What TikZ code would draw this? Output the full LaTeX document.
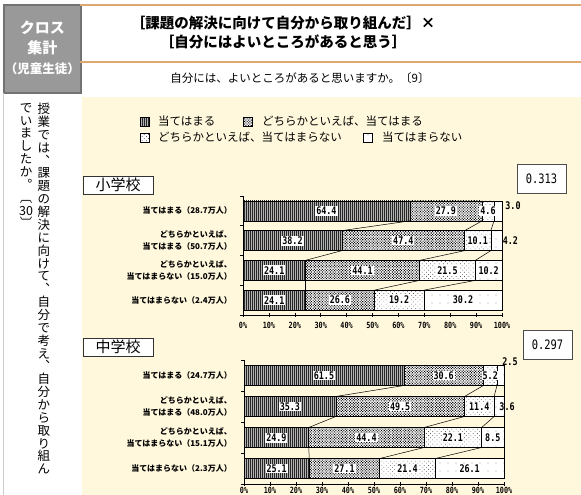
\documentclass[tikz,border=0pt]{standalone}
\usepackage{fontspec}
\setmainfont{Noto Sans CJK JP}
\newfontfamily\numfont[FakeStretch=0.8]{DejaVu Sans Mono}
\usetikzlibrary{patterns.meta}
\definecolor{cream}{RGB}{255,248,220}
\definecolor{rulebrown}{RGB}{222,168,112}
\definecolor{hdgray}{RGB}{153,153,153}

\begin{document}
\begin{tikzpicture}[x=1pt,y=-1pt,
  s1/.style={draw=black,line width=0.5pt,preaction={fill=gray!60},
    pattern={Lines[angle=90,distance=2pt,line width=0.9pt]},pattern color=black!85},
  s2/.style={draw=black,line width=0.5pt,preaction={fill=white},
    pattern={Dots[angle=45,distance=1.9pt,radius=0.75pt]},pattern color=black},
  s3/.style={draw=black,line width=0.5pt,preaction={fill=white},
    pattern={Dots[angle=45,distance=3pt,radius=0.4pt]},pattern color=black},
  s4/.style={draw=black,line width=0.5pt,preaction={fill=white},
    pattern={Dots[distance=8pt,radius=0.45pt]},pattern color=black},
  vlab/.style={fill=white,inner sep=1pt,font=\numfont\bfseries\fontsize{10.5}{11}\selectfont},
  vout/.style={inner sep=1pt,font=\numfont\bfseries\fontsize{10.5}{11}\selectfont},
  tiklab/.style={inner sep=0pt,font=\numfont\bfseries\fontsize{8.5}{9}\selectfont},
  catlab/.style={anchor=east,align=right,inner sep=0pt,font=\bfseries\fontsize{8}{12}\selectfont},
  leglab/.style={anchor=west,inner sep=0pt,font=\fontsize{11.5}{12}\selectfont},
  school/.style={draw=black!80,fill=white,minimum width=70pt,minimum height=18pt,
    inner sep=0pt,font=\fontsize{15}{15}\selectfont},
  coef/.style={draw=black!70,line width=1pt,fill=white,minimum width=49pt,
    minimum height=29pt,inner sep=0pt,font=\numfont\fontsize{13}{13}\selectfont},
  vcol/.style={anchor=north,align=center,inner sep=0pt,font=\fontsize{12.5}{12.86}\selectfont},
  serline/.style={line width=0.5pt},
  axline/.style={line width=0.6pt}
]
\useasboundingbox (0,0) rectangle (581,495);
\fill[white] (0,0) rectangle (581,495);
\fill[cream] (82,97) rectangle (581,495);

% header
\draw[hdgray!75!black,line width=1.2pt,fill=hdgray] (4,5) rectangle (81,93);
\node[align=center,text=white,font=\bfseries\fontsize{15}{20}\selectfont] (hd) at (42.5,48)
  {クロス\\集計\\{\fontsize{12.5}{20}\selectfont（児童生徒）}};
\draw[rulebrown,line width=1.5pt] (80,5) -- (581,5);
\draw[rulebrown,line width=1.2pt] (80,62) -- (581,62);
\node[align=center,font=\bfseries\fontsize{14.5}{19}\selectfont] (ttl) at (283,33)
  {［課題の解決に向けて自分から取り組んだ］×\\［自分にはよいところがあると思う］};
\node[font=\fontsize{11.5}{12}\selectfont] (sub) at (300,78) {自分には、よいところがあると思いますか。〔9〕};

% question in vertical writing
\draw[black!20] (3,93) -- (3,495);
\node[vcol] (qa) at (44,103) {授\\業\\で\\は\\︑\\課\\題\\の\\解\\決\\に\\向\\け\\て\\︑\\自\\分\\で\\考\\え\\︑\\自\\分\\か\\ら\\取\\り\\組\\ん};
\node[vcol] (qb) at (26,103) {で\\い\\ま\\し\\た\\か\\︒\\︹\\30\\︺};

% legend
\draw[s1] (140,117) rectangle (149,126);
\node[leglab] (lg1) at (158,121.5) {当てはまる};
\draw[s2] (243,117) rectangle (252,126);
\node[leglab] (lg2) at (262,121.5) {どちらかといえば、当てはまる};
\draw[s3] (140,133) rectangle (149,142);
\node[leglab] (lg3) at (158,137.5) {どちらかといえば、当てはまらない};
\draw[s4] (363,133) rectangle (372,142);
\node[leglab] (lg4) at (382,137.5) {当てはまらない};

% elementary school
\node[school] (sho) at (118,185) {小学校};
\node[coef] (shor) at (541.5,178.5) {0.313};
\foreach \a/\b/\c/\d/\ls/\lx/\ly [count=\i] in {64.4/27.9/4.6/3.0/vout/15/-5,
    38.2/47.4/10.1/4.2/vout/14/0, 24.1/44.1/21.5/10.2/vlab/0/0, 24.1/26.6/19.2/30.2/vlab/0/0}{
  \pgfmathsetmacro\yc{196+(\i-0.5)*29.75}
  \pgfmathsetmacro\xa{243+2.59*\a}
  \pgfmathsetmacro\xb{\xa+2.59*\b}
  \pgfmathsetmacro\xc{\xb+2.59*\c}
  \draw[s1] (243,\yc-10) rectangle (\xa,\yc+10);
  \draw[s2] (\xa,\yc-10) rectangle (\xb,\yc+10);
  \draw[s3] (\xb,\yc-10) rectangle (\xc,\yc+10);
  \draw[s4] (\xc,\yc-10) rectangle (502,\yc+10);
  \foreach \q [count=\k] in {\xa,\xb,\xc,502}{
    \coordinate (sho-t\i\k) at (\q,\yc-10);
    \coordinate (sho-b\i\k) at (\q,\yc+10);
  }
  \node[vlab] (sho-v\i1) at ({(243+\xa)/2},\yc) {\a};
  \node[vlab] (sho-v\i2) at ({(\xa+\xb)/2},\yc) {\b};
  \node[vlab] (sho-v\i3) at ({(\xb+\xc)/2},\yc) {\c};
  \node[\ls] (sho-v\i4) at ({(\xc+502)/2+\lx},{\yc+\ly}) {\d};
}
\foreach \i [evaluate=\i as \j using int(\i+1)] in {1,2,3}
  \foreach \k in {1,...,4}
    \draw[serline] (sho-b\i\k) -- (sho-t\j\k);
\draw[axline] (243,196) -- (243,315) -- (502,315);
\foreach \t in {0,...,4} \draw[axline] (243,196+29.75*\t) -- ++(-3,0);
\foreach \t [evaluate=\t as \pc using int(10*\t)] in {0,...,10}{
  \draw[axline] (243+25.9*\t,313) -- ++(0,4);
  \node[tiklab] (shox\t) at (243+25.9*\t,325) {\pc\%};
}
\node[catlab] (shoc1) at (232,210.9) {当てはまる（28.7万人）};
\node[catlab] (shoc2) at (232,240.6) {どちらかといえば、\\当てはまる（50.7万人）};
\node[catlab] (shoc3) at (232,270.4) {どちらかといえば、\\当てはまらない（15.0万人）};
\node[catlab] (shoc4) at (232,300.1) {当てはまらない（2.4万人）};

% junior high school
\node[school] (chu) at (118,347) {中学校};
\node[coef] (chur) at (547.5,345) {0.297};
\foreach \a/\b/\c/\d/\ls/\lx/\ly [count=\i] in {61.5/30.6/5.2/2.5/vout/9.5/-13.5,
    35.3/49.5/11.4/3.6/vout/8/0, 24.9/44.4/22.1/8.5/vlab/0/0, 25.1/27.1/21.4/26.1/vlab/0/0}{
  \pgfmathsetmacro\yc{360+(\i-0.5)*31}
  \pgfmathsetmacro\xa{244+2.6*\a}
  \pgfmathsetmacro\xb{\xa+2.6*\b}
  \pgfmathsetmacro\xc{\xb+2.6*\c}
  \draw[s1] (244,\yc-10) rectangle (\xa,\yc+10);
  \draw[s2] (\xa,\yc-10) rectangle (\xb,\yc+10);
  \draw[s3] (\xb,\yc-10) rectangle (\xc,\yc+10);
  \draw[s4] (\xc,\yc-10) rectangle (504,\yc+10);
  \foreach \q [count=\k] in {\xa,\xb,\xc,504}{
    \coordinate (chu-t\i\k) at (\q,\yc-10);
    \coordinate (chu-b\i\k) at (\q,\yc+10);
  }
  \node[vlab] (chu-v\i1) at ({(244+\xa)/2},\yc) {\a};
  \node[vlab] (chu-v\i2) at ({(\xa+\xb)/2},\yc) {\b};
  \node[vlab] (chu-v\i3) at ({(\xb+\xc)/2},\yc) {\c};
  \node[\ls] (chu-v\i4) at ({(\xc+504)/2+\lx},{\yc+\ly}) {\d};
}
\foreach \i [evaluate=\i as \j using int(\i+1)] in {1,2,3}
  \foreach \k in {1,...,4}
    \draw[serline] (chu-b\i\k) -- (chu-t\j\k);
\draw[axline] (244,360) -- (244,484) -- (504,484);
\foreach \t in {0,...,4} \draw[axline] (244,360+31*\t) -- ++(-3,0);
\foreach \t [evaluate=\t as \pc using int(10*\t)] in {0,...,10}{
  \draw[axline] (244+26*\t,482) -- ++(0,4);
  \node[tiklab] (chux\t) at (244+26*\t,490) {\pc\%};
}
\node[catlab] (chuc1) at (232,375.5) {当てはまる（24.7万人）};
\node[catlab] (chuc2) at (232,406.5) {どちらかといえば、\\当てはまる（48.0万人）};
\node[catlab] (chuc3) at (232,437.5) {どちらかといえば、\\当てはまらない（15.1万人）};
\node[catlab] (chuc4) at (232,468.5) {当てはまらない（2.3万人）};
\end{tikzpicture}
\end{document}
